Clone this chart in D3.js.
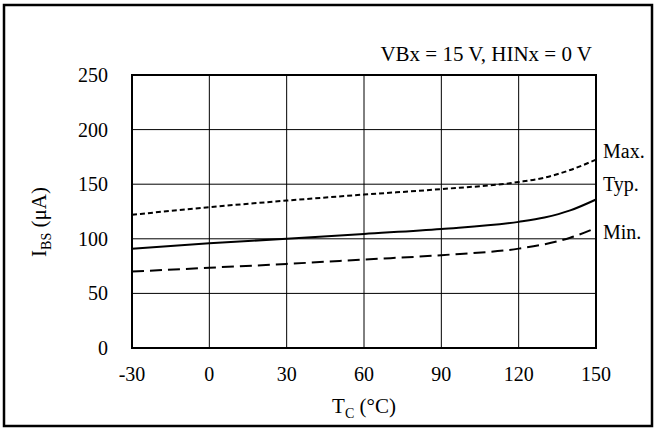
<!DOCTYPE html>
<html>
<head>
<meta charset="utf-8">
<script src="https://cdn.jsdelivr.net/npm/d3@7"></script>
<style>
  body { margin: 0; background: #fff; }
  text { font-family: "Liberation Serif", "Times New Roman", serif; fill: #000; }
</style>
</head>
<body>
<script>
// values
var temps = [-30, 0, 30, 60, 90, 120, 130, 140, 150];
var maxVals = [122, 129, 135, 140.5, 145.5, 152, 156, 163, 172.5];
var typVals = [91, 96, 100, 104.5, 109, 115.5, 119.5, 126, 136];
var minVals = [70, 73.5, 77, 81, 85, 91, 95, 101, 110];
var xTicks = [-30, 0, 30, 60, 90, 120, 150];
var yTicks = [0, 50, 100, 150, 200, 250];

var width = 655, height = 430;
var margin = {top: 75, right: 59, bottom: 82, left: 132};

var svg = d3.select("body")
    .append("svg")
    .attr("width", width)
    .attr("height", height);

// outer frame
svg.append("rect")
    .attr("x", 4).attr("y", 5)
    .attr("width", 648).attr("height", 421)
    .style("fill", "none")
    .style("stroke", "#000")
    .style("stroke-width", 2.5);

var x = d3.scaleLinear().domain([-30, 150]).range([margin.left, width - margin.right]);
var y = d3.scaleLinear().domain([0, 250]).range([height - margin.bottom, margin.top]);

var g = svg.append("g");

// grid
g.selectAll(".vgrid")
    .data(xTicks)
    .enter().append("line")
    .attr("x1", function(d) { return x(d); })
    .attr("x2", function(d) { return x(d); })
    .attr("y1", y(0)).attr("y2", y(250))
    .style("stroke", "#000")
    .style("stroke-width", 1);

g.selectAll(".hgrid")
    .data(yTicks)
    .enter().append("line")
    .attr("y1", function(d) { return y(d); })
    .attr("y2", function(d) { return y(d); })
    .attr("x1", x(-30)).attr("x2", x(150))
    .style("stroke", "#000")
    .style("stroke-width", 1);

// plot border
g.append("rect")
    .attr("x", x(-30)).attr("y", y(250))
    .attr("width", x(150) - x(-30))
    .attr("height", y(0) - y(250))
    .style("fill", "none")
    .style("stroke", "#000")
    .style("stroke-width", 2);

// tick labels
g.selectAll(".xlab")
    .data(xTicks)
    .enter().append("text")
    .attr("x", function(d) { return x(d); })
    .attr("y", y(0) + 33)
    .attr("text-anchor", "middle")
    .style("font-size", "20px")
    .text(function(d) { return d; });

g.selectAll(".ylab")
    .data(yTicks)
    .enter().append("text")
    .attr("x", x(-30) - 24)
    .attr("y", function(d) { return y(d) + 7; })
    .attr("text-anchor", "end")
    .style("font-size", "20px")
    .text(function(d) { return d; });

// curves
var series = [
  {name: "Max.", vals: maxVals, dash: "5,3", ly: 158},
  {name: "Typ.", vals: typVals, dash: null, ly: 191},
  {name: "Min.", vals: minVals, dash: "12,6", ly: 239}
];

var line = d3.line()
    .x(function(d) { return x(d[0]); })
    .y(function(d) { return y(d[1]); })
    .curve(d3.curveMonotoneX);

series.forEach(function(s) {
  g.append("path")
      .datum(d3.zip(temps, s.vals))
      .attr("d", line)
      .style("fill", "none")
      .style("stroke", "#000")
      .style("stroke-width", 2)
      .style("stroke-dasharray", s.dash);
  g.append("text")
      .attr("x", x(150) + 7)
      .attr("y", s.ly)
      .style("font-size", "20px")
      .text(s.name);
});

// condition note
svg.append("text")
    .attr("x", 592)
    .attr("y", 61)
    .attr("text-anchor", "end")
    .style("font-size", "21px")
    .text("VBx = 15 V, HINx = 0 V");

// axis titles
var xt = svg.append("text")
    .attr("x", 364)
    .attr("y", 413)
    .attr("text-anchor", "middle")
    .style("font-size", "21px");
xt.append("tspan").text("T");
xt.append("tspan").attr("dy", 5).style("font-size", "14px").text("C");
xt.append("tspan").attr("dy", -5).text(" (°C)");

var yt = svg.append("text")
    .attr("transform", "translate(46,222) rotate(-90)")
    .attr("text-anchor", "middle")
    .style("font-size", "21px");
yt.append("tspan").text("I");
yt.append("tspan").attr("dy", 5).style("font-size", "14px").text("BS");
yt.append("tspan").attr("dy", -5).text(" (μA)");
</script>
</body>
</html>
